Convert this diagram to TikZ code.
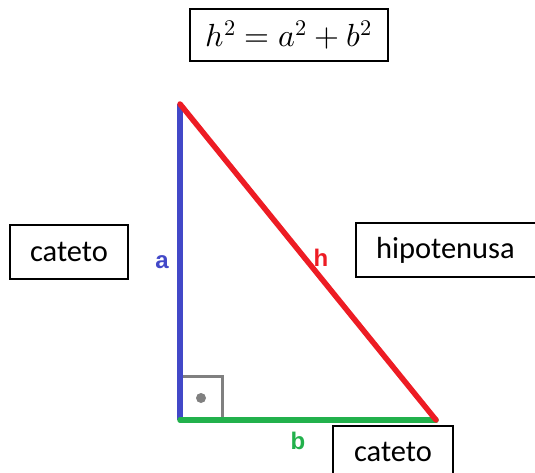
\documentclass[tikz,border=0pt]{standalone}
\usepackage{fontspec}
\setmainfont{Carlito}
\newfontfamily\lblfont{Liberation Sans}
\usepackage{unicode-math}
\setmathfont{Latin Modern Math}
\definecolor{cblue}{RGB}{66,72,200}
\definecolor{cred}{RGB}{237,28,36}
\definecolor{cgreen}{RGB}{34,177,76}
\definecolor{cgray}{RGB}{128,128,128}
\tikzset{
  textbox/.style={draw=black, line width=1.5pt, inner sep=0pt, font=\fontsize{30.5}{34}\selectfont},
  side/.style={line width=5.5pt},
  sidelabel/.style={font=\lblfont\bfseries\fontsize{24}{27}\selectfont, inner sep=0pt}
}
\begin{document}
\begin{tikzpicture}[x=1pt,y=-1pt]
\useasboundingbox (0,0) rectangle (535,473);
\clip (0,0) rectangle (535,473);
% formula
\node[draw=black, line width=1.5pt, minimum width=198pt, minimum height=52pt, inner sep=0pt, font=\fontsize{32}{36}\selectfont] (formula) at (289,35) {$h^2 = a^2 + b^2$};
% vertices
\coordinate (A) at (180,104);
\coordinate (C) at (180,420);
\coordinate (B) at (436,420);
% right-angle mark
\draw[cgray, line width=3pt] (183,376) -- (222,376) -- (222,420);
\fill[cgray] (201,398) circle (5pt);
% sides
\draw[side, cblue] (A) -- (C);
\draw[side, cgreen, line cap=round] (C) -- (B);
\draw[side, cred, line cap=round] (A) -- (B);
% side labels
\node[sidelabel, text=cblue] (la) at (162,262) {a};
\node[sidelabel, text=cred] (lh) at (321,258) {h};
\node[sidelabel, text=cgreen] (lb) at (298,441) {b};
% text boxes
\node[textbox, minimum width=118pt, minimum height=54pt] (cl) at (69,252) {cateto};
\node[textbox, minimum width=190pt, minimum height=54pt, text width=190pt, align=left] (hyp) at (451,250) {\hspace*{20pt}hipotenusa};
\node[textbox, minimum width=120pt, minimum height=64pt, anchor=north] (cb) at (393,425) {\raisebox{11pt}{cateto}};
\end{tikzpicture}
\end{document}
